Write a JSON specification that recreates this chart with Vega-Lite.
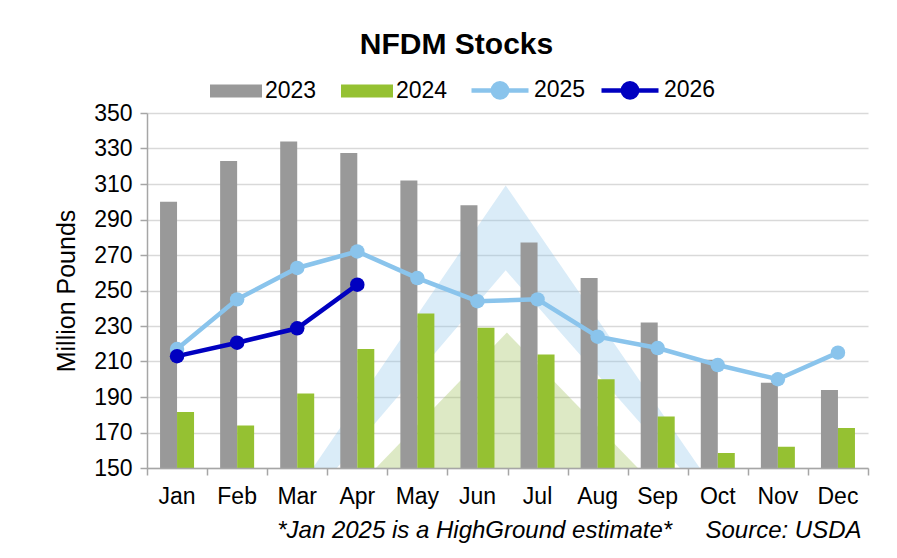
{
  "$schema": "https://vega.github.io/schema/vega-lite/v6.json",
  "width": 721,
  "height": 355,
  "autosize": {"type": "none"},
  "padding": {"left": 147, "top": 113, "right": 29, "bottom": 90},
  "background": "white",
  "title": {"text": "NFDM Stocks", "fontSize": 30, "fontWeight": "bold", "font": "Liberation Sans", "color": "black", "anchor": "middle", "dx": -51, "offset": -1},
  "datasets": {
    "stocks": [
      {"month": "Jan", "year": "2023", "value": 300},
      {"month": "Feb", "year": "2023", "value": 323},
      {"month": "Mar", "year": "2023", "value": 334},
      {"month": "Apr", "year": "2023", "value": 327.5},
      {"month": "May", "year": "2023", "value": 312},
      {"month": "Jun", "year": "2023", "value": 298},
      {"month": "Jul", "year": "2023", "value": 277},
      {"month": "Aug", "year": "2023", "value": 257},
      {"month": "Sep", "year": "2023", "value": 232},
      {"month": "Oct", "year": "2023", "value": 211},
      {"month": "Nov", "year": "2023", "value": 198},
      {"month": "Dec", "year": "2023", "value": 194},
      {"month": "Jan", "year": "2024", "value": 181.5},
      {"month": "Feb", "year": "2024", "value": 174},
      {"month": "Mar", "year": "2024", "value": 192},
      {"month": "Apr", "year": "2024", "value": 217},
      {"month": "May", "year": "2024", "value": 237},
      {"month": "Jun", "year": "2024", "value": 229},
      {"month": "Jul", "year": "2024", "value": 214},
      {"month": "Aug", "year": "2024", "value": 200},
      {"month": "Sep", "year": "2024", "value": 179},
      {"month": "Oct", "year": "2024", "value": 158.5},
      {"month": "Nov", "year": "2024", "value": 162},
      {"month": "Dec", "year": "2024", "value": 172.5},
      {"month": "Jan", "year": "2025", "value": 217},
      {"month": "Feb", "year": "2025", "value": 245},
      {"month": "Mar", "year": "2025", "value": 262.7},
      {"month": "Apr", "year": "2025", "value": 272},
      {"month": "May", "year": "2025", "value": 257},
      {"month": "Jun", "year": "2025", "value": 244},
      {"month": "Jul", "year": "2025", "value": 245},
      {"month": "Aug", "year": "2025", "value": 224},
      {"month": "Sep", "year": "2025", "value": 217.6},
      {"month": "Oct", "year": "2025", "value": 208},
      {"month": "Nov", "year": "2025", "value": 200},
      {"month": "Dec", "year": "2025", "value": 215},
      {"month": "Jan", "year": "2026", "value": 213},
      {"month": "Feb", "year": "2026", "value": 220.6},
      {"month": "Mar", "year": "2026", "value": 228.7},
      {"month": "Apr", "year": "2026", "value": 253.3}
    ],
    "watermark": [
      {"shape": "blue", "x": 2.76, "top": 150, "bottom": 150},
      {"shape": "blue", "x": 3.16, "top": 169.9, "bottom": 150},
      {"shape": "blue", "x": 5.97, "top": 309.2, "bottom": 261.4},
      {"shape": "blue", "x": 8.87, "top": 166.2, "bottom": 150},
      {"shape": "blue", "x": 9.2, "top": 150, "bottom": 150},
      {"shape": "green", "x": 3.81, "top": 150, "bottom": 150},
      {"shape": "green", "x": 5.99, "top": 226.3, "bottom": 150},
      {"shape": "green", "x": 8.17, "top": 150, "bottom": 150}
    ]
  },
  "layer": [
    {
      "data": {"name": "watermark"},
      "layer": [
        {
          "transform": [{"filter": "datum.shape === 'blue'"}],
          "mark": {"type": "area", "fill": "#8cc3ea", "opacity": 0.32},
          "encoding": {
            "x": {"field": "x", "type": "quantitative", "scale": {"domain": [0, 12], "nice": false, "zero": false},
                  "axis": {"orient": "bottom", "values": [0,1,2,3,4,5,6,7,8,9,10,11,12], "labels": false, "ticks": true, "tickSize": 7, "tickWidth": 1.5, "tickColor": "#a6a6a6", "domain": true, "domainColor": "#a6a6a6", "domainWidth": 1.5, "grid": false, "title": null, "zindex": 1}},
            "y": {"field": "top", "type": "quantitative", "title": "Million Pounds", "scale": {"domain": [150, 350], "nice": false, "zero": false},
                  "axis": {"values": [150,170,190,210,230,250,270,290,310,330,350]}},
            "y2": {"field": "bottom"}
          }
        },
        {
          "transform": [{"filter": "datum.shape === 'green'"}],
          "mark": {"type": "area", "fill": "#9dbf5a", "opacity": 0.35},
          "encoding": {
            "x": {"field": "x", "type": "quantitative", "scale": {"domain": [0, 12], "nice": false, "zero": false},
                  "axis": {"orient": "bottom", "values": [0,1,2,3,4,5,6,7,8,9,10,11,12], "labels": false, "ticks": true, "tickSize": 7, "tickWidth": 1.5, "tickColor": "#a6a6a6", "domain": true, "domainColor": "#a6a6a6", "domainWidth": 1.5, "grid": false, "title": null, "zindex": 1}},
            "y": {"field": "top", "type": "quantitative", "title": "Million Pounds", "scale": {"domain": [150, 350], "nice": false, "zero": false},
                  "axis": {"values": [150,170,190,210,230,250,270,290,310,330,350]}},
            "y2": {"field": "bottom"}
          }
        }
      ]
    },
    {
      "data": {"name": "stocks"},
      "layer": [
        {
          "transform": [{"filter": "datum.year === '2023' || datum.year === '2024'"}],
          "mark": {"type": "bar", "clip": true},
          "encoding": {
            "x": {"field": "month", "type": "nominal", "sort": ["Jan","Feb","Mar","Apr","May","Jun","Jul","Aug","Sep","Oct","Nov","Dec"],
                  "scale": {"paddingInner": 0, "paddingOuter": 0},
                  "axis": {"orient": "bottom", "labelAngle": 0, "ticks": false, "domain": false, "labelFontSize": 23, "labelPadding": 17,
                           "title": "*Jan 2025 is a HighGround estimate*\u00a0\u00a0\u00a0\u00a0 Source: USDA",
                           "titleFontStyle": "italic", "titleFontWeight": "normal", "titleFontSize": 24, "titleAnchor": "end", "titleX": 714, "titleAlign": "right", "titlePadding": 10}},
            "xOffset": {"field": "year", "type": "nominal", "scale": {"paddingInner": 0, "paddingOuter": 0.767}},
            "y": {"field": "value", "type": "quantitative", "title": "Million Pounds", "scale": {"domain": [150, 350], "nice": false, "zero": false},
                  "axis": {"values": [150,170,190,210,230,250,270,290,310,330,350]}},
            "fill": {"field": "year", "type": "nominal", "scale": {"domain": ["2023", "2024"], "range": ["#999999", "#95c132"]},
                     "legend": {"title": null, "orient": "none", "legendX": 63, "legendY": -48, "direction": "horizontal",
                                "symbolType": "M-1,-0.25H1V0.25H-1Z", "symbolSize": 2704, "symbolStrokeWidth": 0,
                                "labelFontSize": 23, "labelOffset": 3, "columnPadding": 24}}
          }
        },
        {
          "transform": [{"filter": "datum.year === '2025' || datum.year === '2026'"}],
          "mark": {"type": "line", "strokeWidth": 4.5, "point": {"filled": true, "size": 210, "opacity": 1}},
          "encoding": {
            "x": {"field": "month", "type": "nominal", "sort": ["Jan","Feb","Mar","Apr","May","Jun","Jul","Aug","Sep","Oct","Nov","Dec"],
                  "scale": {"paddingInner": 0, "paddingOuter": 0},
                  "axis": {"orient": "bottom", "labelAngle": 0, "ticks": false, "domain": false, "labelFontSize": 23, "labelPadding": 17,
                           "title": "*Jan 2025 is a HighGround estimate*\u00a0\u00a0\u00a0\u00a0 Source: USDA",
                           "titleFontStyle": "italic", "titleFontWeight": "normal", "titleFontSize": 24, "titleAnchor": "end", "titleX": 714, "titleAlign": "right", "titlePadding": 10}},
            "y": {"field": "value", "type": "quantitative", "title": "Million Pounds", "scale": {"domain": [150, 350], "nice": false, "zero": false},
                  "axis": {"values": [150,170,190,210,230,250,270,290,310,330,350]}},
            "color": {"field": "year", "type": "nominal", "scale": {"domain": ["2025", "2026"], "range": ["#8ac4ec", "#0000c0"]},
                      "legend": {"title": null, "orient": "none", "legendX": 322, "legendY": -54, "direction": "horizontal",
                                 "symbolType": "M-1,0L1,0M-0.25,0A0.25,0.25,0,1,1,0.25,0A0.25,0.25,0,1,1,-0.25,0Z",
                                 "symbolSize": 3249, "symbolStrokeWidth": 4.5,
                                 "labelFontSize": 23, "labelOffset": 3, "columnPadding": 6,
                                 "encode": {"symbols": {"update": {"fill": {"scale": "color", "field": "value"}, "fillOpacity": {"value": 1}}}}}}
          }
        }
      ]
    }
  ],
  "resolve": {"scale": {"x": "independent"}, "axis": {"x": "independent"}},
  "config": {
    "font": "Liberation Sans",
    "view": {"stroke": null},
    "axis": {"labelFont": "Liberation Sans", "titleFont": "Liberation Sans", "labelColor": "black", "titleColor": "black"},
    "axisY": {"grid": true, "gridColor": "#d9d9d9", "gridWidth": 1.5, "domainColor": "#a6a6a6", "domainWidth": 1.5,
              "tickColor": "#a6a6a6", "tickSize": 7, "tickWidth": 1.5, "labelFontSize": 23, "labelPadding": 8, "labelOverlap": false,
              "titleFontSize": 25, "titleFontWeight": "normal", "titlePadding": 14},
    "legend": {"labelFont": "Liberation Sans", "labelColor": "black"}
  }
}
